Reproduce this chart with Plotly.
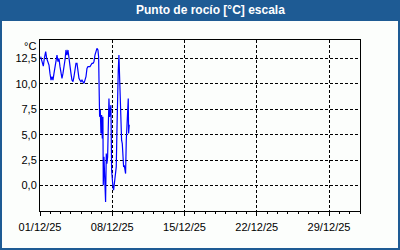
import plotly.graph_objects as go
import pandas as pd

# hours since 2025-12-01 00:00
hours = [1.5, 5.4, 7.7, 10.1, 13.2, 15.5, 18.6, 20.9, 23.2, 25.6, 27.9, 30.2, 32.5, 34.8,
         37.2, 39.5, 41.8, 44.1, 46.5, 48.8, 51.1, 53.4, 55.8, 58.1, 60.4, 62.7, 65.0, 67.4,
         69.7, 72.0, 74.3, 76.7, 79.0, 81.3, 83.6, 86.0, 88.3, 90.6, 92.9, 95.2, 97.6, 99.9,
         102.2, 104.5, 106.9, 109.2, 111.5, 113.8, 116.2, 118.5, 120.8, 123.1, 125.4, 127.8,
         130.1, 132.4, 134.7, 136.3, 137.8, 138.6, 140.2, 141.7, 143.3, 144.8, 146.3, 147.1,
         148.7, 151.0, 152.5, 154.1, 155.6, 157.2, 158.7, 160.3, 161.8, 163.4, 164.9, 166.5,
         168.0, 169.6, 171.1, 172.7, 174.2, 175.8, 177.3, 178.9, 180.4, 182.0, 183.5, 185.1,
         186.6, 188.2, 189.7, 191.3, 192.8, 194.4, 195.9, 197.5, 199.0, 200.6, 202.1, 203.7,
         205.2, 206.0, 207.5]
dew_point = [12.66, 12.17, 11.74, 12.50, 13.15, 12.50, 12.0, 11.84, 11.02, 10.36, 10.69, 10.36,
             11.02, 11.68, 12.50, 12.82, 12.17, 12.50, 11.68, 11.02, 10.53, 11.02, 11.51, 12.33,
             13.32, 12.82, 13.32, 12.33, 11.68, 11.02, 10.36, 10.20, 10.69, 11.35, 12.0, 12.0,
             11.18, 10.53, 10.36, 10.20, 10.36, 10.20, 10.04, 10.36, 10.69, 11.51, 11.68, 11.68,
             11.68, 11.84, 12.0, 12.0, 12.17, 12.82, 13.32, 13.48, 13.32, 12.66, 8.72, 6.75,
             7.41, 5.12, 6.92, 4.62, 6.75, 0.03, 2.82, 0.52, -1.61, 3.15, 2.16, 2.82, 6.10,
             8.56, 6.75, 7.41, 7.90, 1.51, 0.03, -0.13, -0.46, 0.19, 0.85, 1.18, 1.83, 5.44,
             9.38, 11.35, 12.82, 10.36, 8.72, 6.10, 4.46, 4.13, 2.16, 1.83, 1.99, 1.33, 1.18,
             4.46, 5.44, 6.75, 8.56, 5.12, 5.97]

start = pd.Timestamp("2025-12-01 00:00")
times = [start + pd.Timedelta(hours=h) for h in hours]

title_text = "Punto de rocío [°C] escala"
unit_text = "°C"
x_range = ["2025-12-01", "2026-01-01"]
y_range = [-2.5, 14.3]
y_ticks = [0, 2.5, 5, 7.5, 10, 12.5]

BLUE = "#1e5b94"
FONT = "Liberation Sans"

fig = go.Figure()
fig.add_trace(go.Scatter(x=times, y=dew_point, mode="lines",
                         line=dict(color="#0000ff", width=1.2), hoverinfo="skip"))

W, H = 400, 250
L, R, T, B = 40, 40, 40, 39
pw, ph = W - L - R, H - T - B

def px_x(p):
    return (p - L) / pw

def px_y(p):
    return 1 - (p - T) / ph

shapes = [
    dict(type="rect", xref="paper", yref="paper", x0=px_x(0), x1=px_x(W), y0=px_y(H), y1=px_y(0),
         fillcolor=BLUE, line=dict(width=0), layer="below"),
    dict(type="rect", xref="paper", yref="paper", x0=px_x(2), x1=px_x(W - 2), y0=px_y(H - 2), y1=px_y(21),
         fillcolor="#fcfefc", line=dict(width=0), layer="below"),
]

fig.update_layout(
    width=W, height=H,
    margin=dict(l=L, r=R, t=T, b=B),
    paper_bgcolor=BLUE,
    plot_bgcolor="rgba(0,0,0,0)",
    separators=",.",
    showlegend=False,
    font=dict(family=FONT, size=11, color="#000000"),
    shapes=shapes,
    annotations=[
        dict(text="<b>" + title_text + "</b>", xref="paper", yref="paper",
             x=px_x(210), y=px_y(10.5), xanchor="center", yanchor="middle",
             showarrow=False, font=dict(family=FONT, size=12, color="white")),
        dict(text=unit_text, xref="paper", yref="paper", x=px_x(38), y=px_y(45.5),
             xanchor="right", yanchor="middle", showarrow=False,
             font=dict(family=FONT, size=11, color="black")),
    ],
)

fig.update_xaxes(
    range=x_range, type="date",
    tick0="2025-12-01", dtick=7 * 86400000, tickformat="%d/%m/%y",
    ticks="outside", ticklen=4, tickcolor="black", tickwidth=1, ticklabelstandoff=2,
    showline=True, linecolor="black", linewidth=1, mirror=True,
    showgrid=True, gridcolor="black", griddash="3px,2px", gridwidth=1,
    minor=dict(dtick=86400000, ticks="outside", ticklen=2, tickcolor="black", showgrid=False),
    zeroline=False, fixedrange=True,
)
fig.update_yaxes(
    range=y_range, tickmode="array", tickvals=y_ticks, tickformat=".1f",
    ticks="", showline=True, linecolor="black", linewidth=1, mirror=True,
    showgrid=True, gridcolor="black", griddash="3px,2px", gridwidth=1,
    zeroline=False, fixedrange=True,
)

fig.write_html("out.html")
